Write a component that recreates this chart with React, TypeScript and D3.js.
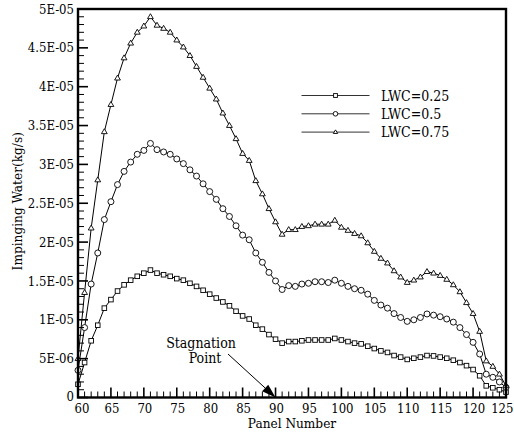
import React from "react";
import * as d3 from "d3";

const panels = [60,61,62,63,64,65,66,67,68,69,70,71,72,73,74,75,76,77,78,79,80,81,82,83,84,85,86,87,88,89,90,91,92,93,94,95,96,97,98,99,100,101,102,103,104,105,106,107,108,109,110,111,112,113,114,115,116,117,118,119,120,121,122,123,124,125];

// values in units of 1E-06 kg/s
const lwc025 = [1.7,4.5,7.3,9.3,11.5,12.6,13.7,14.5,15.1,15.6,16.0,16.4,16.0,15.8,15.6,15.3,15.1,14.7,14.3,13.8,13.3,12.8,12.3,11.8,11.1,10.5,10.1,9.3,8.8,8.1,7.5,7.0,7.2,7.2,7.3,7.4,7.4,7.4,7.4,7.6,7.4,7.2,7.0,6.9,6.6,6.3,6.0,5.8,5.4,5.2,4.9,5.05,5.2,5.4,5.35,5.2,5.05,4.8,4.5,4.1,3.6,2.8,1.5,1.25,1.0,0.7];
const lwc05 = [3.5,9.0,14.6,18.6,22.9,25.2,27.4,29.1,30.3,31.3,31.8,32.7,31.9,31.6,31.3,30.7,30.1,29.3,28.5,27.5,26.5,25.5,24.3,23.3,22.1,20.9,20.3,18.6,17.4,16.1,15.0,13.9,14.4,14.3,14.6,14.7,14.9,14.9,14.8,15.1,14.7,14.3,14.0,13.8,13.3,12.5,11.9,11.5,10.8,10.3,9.8,10.0,10.3,10.75,10.6,10.4,10.1,9.7,9.0,8.1,7.1,5.6,3.0,2.6,2.0,1.3];
const lwc075 = [5.0,13.5,21.8,28.0,34.2,37.7,41.1,43.7,45.6,47.0,47.8,49.0,47.9,47.5,47.0,46.0,45.1,44.0,42.6,41.2,39.8,38.4,36.6,35.0,33.3,31.4,30.5,27.9,26.2,24.3,22.6,21.0,21.6,21.6,22.0,22.1,22.3,22.3,22.3,22.8,21.9,21.5,21.1,20.8,19.9,18.8,17.9,17.3,16.3,15.5,14.8,15.1,15.5,16.2,16.0,15.7,15.2,14.5,13.6,12.2,10.8,8.5,4.7,4.0,3.0,1.5];
const unit = 1e-6;

const seriesNames = ["LWC=0.25", "LWC=0.5", "LWC=0.75"];
const seriesMarkers = ["square", "circle", "triangle"];

const xTickValues = [60,65,70,75,80,85,90,95,100,105,110,115,120,125];
const yTickValues = [0,5e-6,1e-5,1.5e-5,2e-5,2.5e-5,3e-5,3.5e-5,4e-5,4.5e-5,5e-5];
const yTickLabels = ["0","5E-06","1E-05","1.5E-05","2E-05","2.5E-05","3E-05","3.5E-05","4E-05","4.5E-05","5E-05"];
const stagnationPanel = 90;

const W = 514, H = 434;
const left = 78, right = 506, top = 9, bottom = 397.5;
const font = "'DejaVu Serif Condensed', 'DejaVu Serif', serif";

function Marker({ kind, x, y, s }: { kind: string; x: number; y: number; s: number }) {
  if (kind === "square") {
    return <rect x={x - s / 2} y={y - s / 2} width={s} height={s} fill="white" stroke="black" strokeWidth={0.9} />;
  }
  if (kind === "circle") {
    return <circle cx={x} cy={y} r={s / 2 + 0.4} fill="white" stroke="black" strokeWidth={0.9} />;
  }
  const h = s * 0.95;
  const pts = `${x},${y - h * 0.62} ${x - s / 2 - 0.3},${y + h * 0.38} ${x + s / 2 + 0.3},${y + h * 0.38}`;
  return <polygon points={pts} fill="white" stroke="black" strokeWidth={0.9} />;
}

export default function App() {
  const x = d3.scaleLinear().domain([60, 125]).range([left, right]);
  const y = d3.scaleLinear().domain([0, 5e-5]).range([bottom, top]);
  const all = [lwc025, lwc05, lwc075];
  const line = d3.line<number>().x((_, i) => x(panels[i])).y((d) => y(d * unit));

  const minorX = d3.range(60, 126).filter((v) => v % 5 !== 0);
  const minorY = d3.range(0, 51).filter((v) => v % 5 !== 0).map((v) => v * 1e-6);

  const tipX = x(stagnationPanel), tipY = y(0);
  const tailX = 228, tailY = 354;
  const ang = Math.atan2(tipY - tailY, tipX - tailX);
  const hl = 14, hw = 4.5;
  const bx = tipX - hl * Math.cos(ang), by = tipY - hl * Math.sin(ang);
  const head = `${tipX},${tipY} ${bx + hw * Math.sin(ang)},${by - hw * Math.cos(ang)} ${bx - hw * Math.sin(ang)},${by + hw * Math.cos(ang)}`;

  const ts = { fontFamily: font } as React.CSSProperties;

  return (
    <svg width={W} height={H} style={{ position: "absolute", left: 0, top: 0, background: "white" }}>
      {all.map((vals, si) => (
        <g key={si}>
          <path d={line(vals) || ""} fill="none" stroke="black" strokeWidth={1} />
          {vals.map((v, i) => (
            <Marker key={i} kind={seriesMarkers[si]} x={x(panels[i])} y={y(v * unit)} s={si === 0 ? 4.6 : 5.2} />
          ))}
        </g>
      ))}

      {xTickValues.map((t) => (
        <line key={"xM" + t} x1={x(t)} x2={x(t)} y1={bottom} y2={bottom - 10} stroke="black" strokeWidth={1.6} />
      ))}
      {minorX.map((t) => (
        <line key={"xm" + t} x1={x(t)} x2={x(t)} y1={bottom} y2={bottom - 6} stroke="black" strokeWidth={1} />
      ))}
      {yTickValues.map((t) => (
        <line key={"yM" + t} x1={left} x2={left + 10} y1={y(t)} y2={y(t)} stroke="black" strokeWidth={1.6} />
      ))}
      {minorY.map((t, i) => (
        <line key={"ym" + i} x1={left} x2={left + 6} y1={y(t)} y2={y(t)} stroke="black" strokeWidth={1} />
      ))}

      <rect x={left} y={top} width={right - left} height={bottom - top} fill="none" stroke="black" strokeWidth={2.4} />

      {xTickValues.map((t, i) => {
        const last = i === xTickValues.length - 1;
        const first = i === 0;
        return (
          <text key={"xl" + t} style={ts} x={last ? 513.5 : first ? x(t) + 4 : x(t) + 1} y={412.5} textAnchor={last ? "end" : "middle"} fontSize={13}>{t}</text>
        );
      })}
      {yTickLabels.map((lab, i) => (
        <text key={"yl" + i} style={ts} x={74} y={y(yTickValues[i]) - (i === 0 ? 1 : 0)} dy="0.35em" textAnchor="end" fontSize={13}>{lab}</text>
      ))}

      <text style={ts} x={(left + right) / 2} y={428} textAnchor="middle" fontSize={13.5}>Panel Number</text>
      <text style={ts} transform={`translate(22,${(top + bottom) / 2 - 2}) rotate(-90)`} textAnchor="middle" fontSize={13.5}>Impinging Water(kg/s)</text>

      {seriesNames.map((name, i) => {
        const ly = 95.5 + i * 18.3;
        return (
          <g key={name}>
            <line x1={301.5} x2={369.5} y1={ly} y2={ly} stroke="#333" strokeWidth={1} />
            <Marker kind={seriesMarkers[i]} x={335.5} y={ly} s={3.8} />
            <text style={ts} x={381} y={ly} dy="0.36em" fontSize={14}>{name}</text>
          </g>
        );
      })}

      <text style={ts} x={201} y={348} textAnchor="middle" fontSize={14}>Stagnation</text>
      <text style={ts} x={205} y={363} textAnchor="middle" fontSize={14}>Point</text>
      <line x1={tailX} y1={tailY} x2={bx} y2={by} stroke="black" strokeWidth={1} />
      <polygon points={head} fill="black" />
    </svg>
  );
}
